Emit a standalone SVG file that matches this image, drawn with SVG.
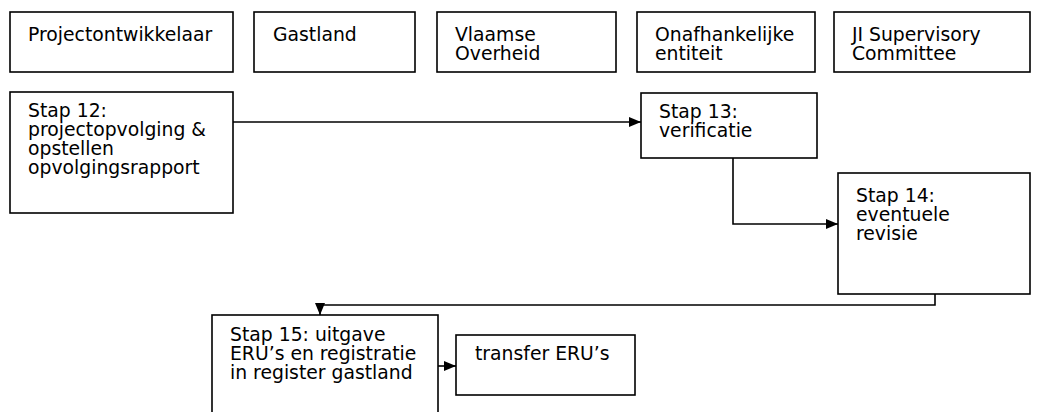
<svg xmlns="http://www.w3.org/2000/svg" width="1037" height="412" viewBox="0 0 1037 412">
<style>
.box{fill:#fff;stroke:#000;stroke-width:1.6}
.t{font-family:"DejaVu Sans",Verdana,sans-serif;font-size:18.8px;fill:#000}
.c{fill:none;stroke:#000;stroke-width:1.6}
</style>
<defs>
<marker id="ah" viewBox="0 0 12 10" refX="12" refY="5" markerWidth="12" markerHeight="10" markerUnits="userSpaceOnUse" orient="auto">
<path d="M0,0 L12,5 L0,10 Z" fill="#000"/>
</marker>
</defs>
<rect width="1037" height="412" fill="#fff"/>
<g id="projectontwikkelaar"><rect class="box" x="10" y="12" width="223" height="60"/><text class="t" x="28" y="41">Projectontwikkelaar</text></g>
<g id="gastland"><rect class="box" x="254" y="12" width="161" height="60"/><text class="t" x="273" y="41">Gastland</text></g>
<g id="vlaamse-overheid"><rect class="box" x="437" y="12" width="179" height="60"/><text class="t" x="455" y="41">Vlaamse<tspan x="455" dy="19">Overheid</tspan></text></g>
<g id="onafhankelijke-entiteit"><rect class="box" x="637" y="12" width="178" height="60"/><text class="t" x="655" y="41">Onafhankelijke<tspan x="655" dy="19">entiteit</tspan></text></g>
<g id="ji-supervisory-committee"><rect class="box" x="834" y="12" width="196" height="60"/><text class="t" x="852" y="41">JI Supervisory<tspan x="852" dy="19">Committee</tspan></text></g>
<g id="stap12"><rect class="box" x="10" y="92" width="223" height="121"/><text class="t" x="28" y="117">Stap 12:<tspan x="28" dy="19">projectopvolging &amp;</tspan><tspan x="28" dy="19">opstellen</tspan><tspan x="28" dy="19">opvolgingsrapport</tspan></text></g>
<g id="stap13"><rect class="box" x="641" y="93" width="176" height="65"/><text class="t" x="659" y="118">Stap 13:<tspan x="659" dy="19">verificatie</tspan></text></g>
<g id="stap14"><rect class="box" x="838" y="173" width="192" height="121"/><text class="t" x="856" y="202">Stap 14:<tspan x="856" dy="19">eventuele</tspan><tspan x="856" dy="19">revisie</tspan></text></g>
<g id="stap15"><rect class="box" x="212" y="315" width="226" height="110"/><text class="t" x="230" y="341">Stap 15: uitgave<tspan x="230" dy="19">ERU’s en registratie</tspan><tspan x="230" dy="19">in register gastland</tspan></text></g>
<g id="transfer"><rect class="box" x="456" y="335" width="179" height="60"/><text class="t" x="475" y="360">transfer ERU’s</text></g>
<g id="connectors">
<path class="c" d="M233,122 H641" marker-end="url(#ah)"/>
<path class="c" d="M733,158 V224 H838" marker-end="url(#ah)"/>
<path class="c" d="M935,294 V305 H320 V315" marker-end="url(#ah)"/>
<path class="c" d="M438,366 H456" marker-end="url(#ah)"/>
</g>
</svg>
